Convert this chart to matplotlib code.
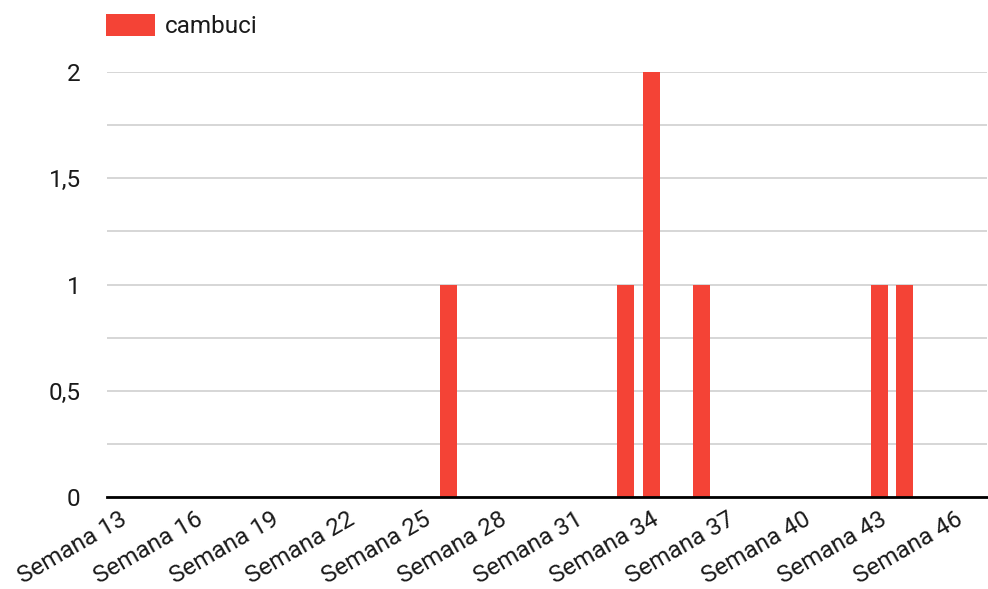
import matplotlib
matplotlib.use("Agg")
import matplotlib.pyplot as plt
from matplotlib.ticker import MultipleLocator, FuncFormatter

plt.rcParams['font.family'] = ['Roboto', 'DejaVu Sans']

# data
semanas = list(range(13, 48))
cambuci = [0, 0, 0, 0, 0, 0, 0, 0, 0, 0, 0, 0, 0,   # 13-25
           1, 0, 0, 0, 0, 0, 0,                      # 26-32
           1, 2, 0, 1, 0, 0, 0, 0, 0, 0,             # 33-42
           1, 1, 0, 0, 0]                            # 43-47
tick_semanas = semanas[::3]
tick_labels = ["Semana %d" % s for s in tick_semanas]

red = '#f44336'
fs = 17.5

fig = plt.figure(figsize=(9.88, 5.89), dpi=100)
ax = fig.add_axes([107/988, 1-497/589, 880/988, 425/589])

ax.bar(semanas, cambuci, width=0.67, color=red, zorder=3, label='cambuci')

ax.set_xlim(12.51, 47.26)
ax.set_ylim(0, 2)

ax.yaxis.set_major_locator(MultipleLocator(0.5))
ax.yaxis.set_minor_locator(MultipleLocator(0.25))
ax.yaxis.set_major_formatter(FuncFormatter(lambda v, p: ('%g' % v).replace('.', ',')))
ax.grid(axis='y', which='both', color='#cccccc', linewidth=1.1, zorder=0)

ax.set_xticks(tick_semanas)
ax.set_xticklabels(tick_labels, rotation=30, ha='right', va='top',
                   rotation_mode='anchor', fontsize=fs, color='#1a1a1a')
ax.tick_params(axis='x', length=0, pad=8)
ax.tick_params(axis='y', which='both', length=0, pad=19, labelsize=fs,
               labelcolor='#1a1a1a')

for s in ['top', 'right', 'left']:
    ax.spines[s].set_visible(False)
ax.spines['bottom'].set_color('black')
ax.spines['bottom'].set_linewidth(2)
ax.spines['bottom'].set_zorder(4)

leg = fig.legend(loc='upper left', bbox_to_anchor=(106/988, 1-14/589), frameon=False,
                 fontsize=fs, handlelength=2.02, handleheight=1.0, handletextpad=0.41,
                 borderpad=0, borderaxespad=0)
for t in leg.get_texts():
    t.set_color('#1a1a1a')

fig.savefig('out.png', dpi=100)
